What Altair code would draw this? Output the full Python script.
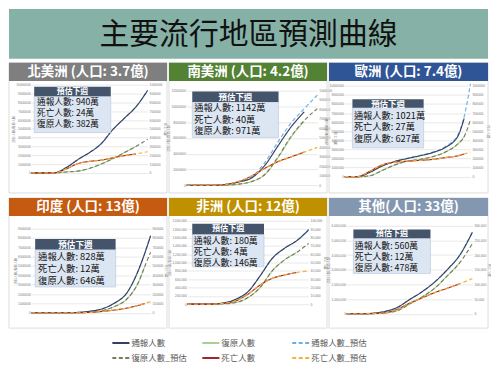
import json
import altair as alt
import pandas as pd

# ---------------- data ----------------
TITLE = "主要流行地區預測曲線"

SERIES = ["通報人數", "復原人數", "通報人數_預估", "復原人數_預估", "死亡人數", "死亡人數_預估"]
SERIES_COLORS = ["#34405E", "#A9D18E", "#6FAFE0", "#787C5C", "#A3262A", "#F2B338"]
SERIES_DASH = [[1, 0], [1, 0], [4, 2.5], [4, 2.5], [1, 0], [4, 2.5]]

REGIONS = ["北美洲 (人口: 3.7億)", "南美洲 (人口: 4.2億)", "歐洲 (人口: 7.4億)",
           "印度 (人口: 13億)", "非洲 (人口: 12億)", "其他(人口: 33億)"]
HEADER_COLORS = ["#7F7F7F", "#548235", "#2F5597", "#C55A11", "#BF9000", "#8497B0"]

FORECAST_TITLE = "預估下週"
FORECAST_LABELS = ["通報人數", "死亡人數", "復原人數"]
FORECAST = [[940, 24, 382], [1142, 40, 971], [1021, 27, 627],
            [828, 12, 646], [180, 4, 146], [560, 12, 478]]   # 萬

LEFT_AXIS_TITLE = "通報人數/復原人數"
RIGHT_AXIS_TITLE = "死亡人數"

# axis ranges (persons)
LEFT_MAX = [10000000, 12000000, 10000000, 9000000, 2000000, 6000000]
LEFT_STEP = [1000000, 2000000, 1000000, 1000000, 200000, 1000000]
RIGHT_MAX = [1000000, 1000000, 1000000, 900000, 100000, 300000]
RIGHT_STEP = [100000, 100000, 100000, 100000, 10000, 50000]
NUM_FORMAT = ["d", "d", "d", "d", ",d", ",d"]

# x tick labels
NA_TICKS = ["2020/1/22", "2020/2/22", "2020/3/22", "2020/4/22", "2020/5/22",
            "2020/6/22", "2020/7/22", "2020/8/22", "2020/9/22", "2020/10/22"]
SA_TICKS = ["2/26", "3/11", "3/25", "4/8", "4/22", "5/6", "5/20", "6/3", "6/17",
            "7/1", "7/15", "7/29", "8/12", "8/26", "9/9", "9/23", "10/7", "10/21"]
EU_TICKS = ["1/24", "2/23", "3/24", "4/23", "5/23", "6/22", "7/22", "8/21", "9/20", "10/20"]
IN_TICKS = ["2020/1/30", "2020/2/29", "2020/3/30", "2020/4/29", "2020/5/29",
            "2020/6/28", "2020/7/28", "2020/8/27", "2020/9/26", "2020/10/26"]
AF_TICKS = ["2/14", "2/21", "2/28", "3/6", "3/13", "3/20", "3/27", "4/3", "4/10", "4/17",
            "4/24", "5/1", "5/8", "5/15", "5/22", "5/29", "6/5", "6/12", "6/19", "6/26",
            "7/3", "7/10", "7/17", "7/24", "7/31", "8/7", "8/14", "8/21", "8/28", "9/4",
            "9/11", "9/18", "9/25", "10/2"]
OT_TICKS = ["1/22", "1/29", "2/5", "2/12", "2/19", "2/26", "3/4", "3/11", "3/18", "3/25",
            "4/1", "4/8", "4/15", "4/22", "4/29", "5/6", "5/13", "5/20", "5/27", "6/3",
            "6/10", "6/17", "6/24", "7/1", "7/8", "7/15", "7/22", "7/29", "8/5", "8/12",
            "8/19", "8/26", "9/2", "9/9", "9/16", "9/23", "9/30", "10/7", "10/14", "10/21"]

# sample positions along the x axis (fraction of axis) and series values (萬人)
X11 = [0, 0.1, 0.2, 0.3, 0.4, 0.5, 0.6, 0.7, 0.8, 0.9, 1.0]
X12 = [0, 0.1, 0.2, 0.3, 0.4, 0.5, 0.6, 0.7, 0.8, 0.9, 0.95, 1.0]

NA_CASES = [0, 0, 2, 60, 150, 230, 330, 490, 620, 750, 935]
NA_CASES_PRED = [0, 0, 2, 60, 150, 230, 330, 490, 620, 750, 940]
NA_REC = [0, 0, 0, 10, 20, 50, 100, 160, 230, 300]
NA_REC_PRED = [0, 0, 0, 10, 20, 50, 100, 160, 230, 300, 382]
NA_DEATHS = [0, 0, 0, 4.5, 10.5, 13, 14.5, 17, 19.5, 21.5]
NA_DEATHS_PRED = [0, 0, 0, 4.5, 10.5, 13, 14.5, 17, 19.5, 21.5, 24]

SA_CASES = [0, 0, 0, 10, 42, 95, 255, 500, 740, 930]
SA_CASES_PRED = [0, 0, 0, 12, 50, 110, 290, 550, 790, 970, 1142]
SA_REC = [0, 0, 0, 2, 14, 48, 135, 350, 610, 810]
SA_REC_PRED = [0, 0, 0, 2, 15, 50, 140, 360, 620, 820, 971]
SA_DEATHS = [0, 0, 0, 1, 4, 10, 18, 25, 30, 35]
SA_DEATHS_PRED = [0, 0, 0, 1, 4, 10, 18, 25, 30, 35, 40]

EU_CASES = [0, 0, 48, 118, 167, 200, 230, 265, 322, 445, 640]
EU_CASES_PRED = [0, 0, 50, 120, 170, 205, 235, 270, 330, 460, 660, 1021]
EU_REC = [0, 0, 10, 70, 130, 170, 190, 220, 270, 360, 440]
EU_REC_PRED = [0, 0, 10, 70, 130, 170, 190, 220, 270, 360, 440, 627]
EU_DEATHS = [0, 0, 6, 13, 16, 17, 18, 19, 21, 23, 25]
EU_DEATHS_PRED = [0, 0, 6, 13, 16, 17, 18, 19, 21, 23, 25, 27]

IN_CASES = [0, 0, 0, 0, 5, 18, 45, 105, 210, 460, 630, 820]
IN_CASES_PRED = [0, 0, 0, 0, 5, 18, 45, 105, 210, 460, 630, 828]
IN_REC = [0, 0, 0, 0, 1, 8, 25, 68, 145, 330, 490]
IN_REC_PRED = [0, 0, 0, 0, 1, 8, 25, 68, 145, 330, 490, 646]
IN_DEATHS = [0, 0, 0, 0, 0.1, 0.5, 1.5, 3, 5, 8, 9.8]
IN_DEATHS_PRED = [0, 0, 0, 0, 0.1, 0.5, 1.5, 3, 5, 8, 9.8, 12]

AF_CASES = [0, 0, 0.5, 3, 12, 30, 68, 110, 134, 152, 178]
AF_CASES_PRED = [0, 0, 0.5, 3, 12, 30, 68, 110, 134, 152, 180]
AF_REC = [0, 0, 0, 1, 4, 16, 40, 80, 106, 124]
AF_REC_PRED = [0, 0, 0, 1, 4, 16, 40, 80, 106, 124, 146]
AF_DEATHS = [0, 0, 0.01, 0.1, 0.4, 1.2, 2.3, 3.1, 3.5, 3.8]
AF_DEATHS_PRED = [0, 0, 0.01, 0.1, 0.4, 1.2, 2.3, 3.1, 3.5, 3.8, 4.0]

OT_CASES = [0, 0, 3, 15, 42, 96, 150, 216, 300, 400, 555]
OT_CASES_PRED = [0, 0, 3, 15, 42, 96, 150, 216, 300, 400, 560]
OT_REC = [0, 0, 1, 6, 20, 66, 114, 174, 258, 348]
OT_REC_PRED = [0, 0, 1, 6, 20, 66, 114, 174, 258, 348, 478]
OT_DEATHS = [0, 0, 0.05, 0.3, 1.5, 3.6, 5.4, 7.2, 8.7, 10.2]
OT_DEATHS_PRED = [0, 0, 0.05, 0.3, 1.5, 3.6, 5.4, 7.2, 8.7, 10.2, 12]

PANEL_DATA = [
    dict(x=X11, ticks=NA_TICKS, k=10, angle=-45, cases=NA_CASES, cases_p=NA_CASES_PRED,
         rec=NA_REC, rec_p=NA_REC_PRED, deaths=NA_DEATHS, deaths_p=NA_DEATHS_PRED),
    dict(x=X11, ticks=SA_TICKS, k=17, angle=0, cases=SA_CASES, cases_p=SA_CASES_PRED,
         rec=SA_REC, rec_p=SA_REC_PRED, deaths=SA_DEATHS, deaths_p=SA_DEATHS_PRED),
    dict(x=X12, ticks=EU_TICKS, k=9, angle=0, cases=EU_CASES, cases_p=EU_CASES_PRED,
         rec=EU_REC, rec_p=EU_REC_PRED, deaths=EU_DEATHS, deaths_p=EU_DEATHS_PRED),
    dict(x=X12, ticks=IN_TICKS, k=10, angle=-45, cases=IN_CASES, cases_p=IN_CASES_PRED,
         rec=IN_REC, rec_p=IN_REC_PRED, deaths=IN_DEATHS, deaths_p=IN_DEATHS_PRED),
    dict(x=X11, ticks=AF_TICKS, k=33, angle=-90, cases=AF_CASES, cases_p=AF_CASES_PRED,
         rec=AF_REC, rec_p=AF_REC_PRED, deaths=AF_DEATHS, deaths_p=AF_DEATHS_PRED),
    dict(x=X11, ticks=OT_TICKS, k=39, angle=-90, cases=OT_CASES, cases_p=OT_CASES_PRED,
         rec=OT_REC, rec_p=OT_REC_PRED, deaths=OT_DEATHS, deaths_p=OT_DEATHS_PRED),
]

# ---------------- layout (reference px inside a 163x136 panel) ----------------
LAYOUT = [
    dict(px=(23, 143), py=(23, 115), box=(26, 105, 25, 35, 73), tx=29, rows=(41.5, 53, 64.5), fs=8.7),
    dict(px=(18, 153), py=(29, 128), box=(24, 113, 30, 41, 78), tx=26, rows=(47.5, 59.5, 71.5), fs=9.3),
    dict(px=(16, 145), py=(24, 119), box=(24, 97, 38, 47, 89), tx=25.5, rows=(55.5, 67.5, 79.5), fs=9.3),
    dict(px=(23, 146), py=(32, 120), box=(27, 110, 43, 54, 93), tx=30, rows=(62, 74.5, 87), fs=9.4),
    dict(px=(19, 144), py=(24, 111), box=(24, 98, 27, 38, 72), tx=25.5, rows=(44.5, 56, 67.5), fs=9.0),
    dict(px=(18, 147), py=(29, 121), box=(25, 104, 33, 42, 79), tx=26.5, rows=(50, 61.5, 73), fs=8.9),
]

CJK = "Noto Sans CJK TC"
LAT = "Liberation Sans"
ONE = pd.DataFrame({"k": [0]})
TOTAL_W = 482
PANEL_W = [159, 159, 160]
PANEL_H = 131
HEADER_H = 19
TICK_FS = 3.3
TICK_COLOR = "#7A7A7A"


def rect(x0, x1, y0, y1, fill, stroke=None, sw=0.0, opacity=1.0):
    kw = dict(fill=fill, fillOpacity=opacity)
    if stroke:
        kw.update(stroke=stroke, strokeWidth=sw)
    else:
        kw.update(strokeWidth=0)
    return alt.Chart(ONE).mark_rect(**kw).encode(
        x=alt.value(float(x0)), x2=alt.value(float(x1)),
        y=alt.value(float(y0)), y2=alt.value(float(y1)))


def text(x, y, s, size, color, align="left", weight="normal", font=CJK):
    return alt.Chart(ONE).mark_text(
        align=align, baseline="middle", fontSize=size, color=color,
        fontWeight=weight, font=font).encode(
        x=alt.value(float(x)), y=alt.value(float(y)), text=alt.value(s))


def panel(i, W, H):
    L, D = LAYOUT[i], PANEL_DATA[i]
    sx, sy = W / 163.0, H / 136.0
    x0, x1 = L["px"][0] * sx, L["px"][1] * sx
    yt, yb = L["py"][0] * sy, L["py"][1] * sy
    xscale = alt.Scale(domain=[0, 1], range=[x0, x1], nice=False, zero=False)
    ylscale = alt.Scale(domain=[0, LEFT_MAX[i]], range=[yb, yt], nice=False, zero=False)
    yrscale = alt.Scale(domain=[0, RIGHT_MAX[i]], range=[yb, yt], nice=False, zero=False)

    k = D["k"]
    tick_vals = [j / k for j in range(len(D["ticks"]))]
    x_axis = alt.Axis(
        orient="bottom", offset=-(H - yb), values=tick_vals,
        labelExpr=f"{json.dumps(D['ticks'])}[round(datum.value*{k})]",
        labelAngle=D["angle"], labelFontSize=TICK_FS, labelColor=TICK_COLOR, labelFont=LAT,
        labelPadding=1.5, labelOverlap=False, labelFlush=False, ticks=False,
        domain=True, domainColor="#D0D0D0", domainWidth=0.7, grid=False, title=None)
    left_axis = alt.Axis(
        orient="left", offset=-x0,
        values=list(range(0, LEFT_MAX[i] + 1, LEFT_STEP[i])), format=NUM_FORMAT[i],
        labelFontSize=TICK_FS, labelColor=TICK_COLOR, labelFont=LAT, labelPadding=1,
        labelOverlap=False, labelFlush=False, ticks=False, domain=False,
        grid=True, gridColor="#D9D9D9", gridWidth=0.6,
        title=LEFT_AXIS_TITLE, titleFontSize=3.2, titleColor=TICK_COLOR, titleFont=CJK,
        titleFontWeight="normal", titlePadding=0.5)
    right_axis = alt.Axis(
        orient="right", offset=-(W - x1),
        values=list(range(0, RIGHT_MAX[i] + 1, RIGHT_STEP[i])), format=NUM_FORMAT[i],
        labelFontSize=TICK_FS, labelColor=TICK_COLOR, labelFont=LAT, labelPadding=1.5,
        labelOverlap=False, labelFlush=False, ticks=False, domain=False, grid=False,
        title=RIGHT_AXIS_TITLE, titleFontSize=3.2, titleColor=TICK_COLOR, titleFont=CJK,
        titleFontWeight="normal", titlePadding=0.5)

    def line(vals, key, yscale, xa=None, ya=None):
        n = len(vals)
        df = pd.DataFrame({"x": D["x"][:n], "v": [v * 10000 for v in vals]})
        j = SERIES.index(key)
        return alt.Chart(df).mark_line(
            interpolate="monotone", strokeWidth=1.15, color=SERIES_COLORS[j],
            strokeDash=SERIES_DASH[j]).encode(
            x=alt.X("x:Q", scale=xscale, axis=xa),
            y=alt.Y("v:Q", scale=yscale, axis=ya))

    hh = HEADER_H * sy
    bx0, bx1, hy0, hy1, by1 = L["box"]
    bx0, bx1 = bx0 * sx, bx1 * sx
    hy0, hy1, by1 = hy0 * sy, hy1 * sy, by1 * sy
    fc = FORECAST[i]

    layers = [
        rect(0, W, 0, H, "#FFFFFF", "#D4D4D4", 0.8, opacity=0.0),
        rect(0, W, 0, hh, HEADER_COLORS[i]),
        text(W / 2, hh / 2 + 0.5, REGIONS[i], 13.5, "#FFFFFF", align="center", weight="bold"),
        line(D["rec"], "復原人數", ylscale, x_axis, left_axis),
        line(D["rec_p"], "復原人數_預估", ylscale),
        line(D["cases_p"], "通報人數_預估", ylscale),
        line(D["cases"], "通報人數", ylscale),
        line(D["deaths"], "死亡人數", yrscale, None, right_axis),
        line(D["deaths_p"], "死亡人數_預估", yrscale),
        rect(bx0, bx1, hy1, by1, "#DCE5F2", "#B4C4DE", 0.6),
        rect(bx0, bx1, hy0, hy1, "#44546A"),
        text((bx0 + bx1) / 2, (hy0 + hy1) / 2 + 0.2, FORECAST_TITLE, L["fs"] - 0.8,
             "#FFFFFF", align="center", weight="bold"),
    ]
    for r, (lab, val) in enumerate(zip(FORECAST_LABELS, fc)):
        layers.append(text(L["tx"] * sx, L["rows"][r] * sy, f"{lab}: {val}萬",
                           L["fs"], "#111111"))
    return alt.layer(*layers).resolve_scale(y="independent").properties(width=W, height=H)


# title band
title = alt.layer(
    rect(0, TOTAL_W, 0, 50, "#86B1A7"),
    text(TOTAL_W / 2, 26, TITLE, 30, "#111111", align="center"),
).properties(width=TOTAL_W, height=50)

row1 = alt.hconcat(*[panel(i, PANEL_W[i], PANEL_H) for i in range(3)], spacing=2, bounds="flush")
row2 = alt.hconcat(*[panel(i + 3, PANEL_W[i], PANEL_H) for i in range(3)], spacing=2, bounds="flush")

# legend
leg = pd.DataFrame({"s": SERIES, "col": [j % 3 for j in range(6)], "row": [j // 3 for j in range(6)]})
leg["xe"] = leg["col"] + 0.19
lx = alt.Scale(domain=[0, 2], range=[104, 285], nice=False, zero=False)
ly = alt.Scale(domain=[0, 1], range=[11, 26], nice=False, zero=False)
lcolor = alt.Color("s:N", scale=alt.Scale(domain=SERIES, range=SERIES_COLORS), legend=None)
ldash = alt.StrokeDash("s:N", scale=alt.Scale(domain=SERIES, range=SERIES_DASH), legend=None)
leg_rules = alt.Chart(leg).mark_rule(strokeWidth=2).encode(
    x=alt.X("col:Q", scale=lx, axis=None), x2=alt.X2("xe"),
    y=alt.Y("row:Q", scale=ly, axis=None), color=lcolor, strokeDash=ldash)
leg_text = alt.Chart(leg).mark_text(
    align="left", baseline="middle", dx=2, fontSize=8.5, color="#595959", font=CJK).encode(
    x=alt.X("xe:Q", scale=lx, axis=None), y=alt.Y("row:Q", scale=ly, axis=None), text="s:N")
legend = alt.layer(leg_rules, leg_text).properties(width=TOTAL_W, height=31)

chart = alt.vconcat(title, row1, row2, legend, spacing=3).properties(
    padding=0).configure_view(stroke=None)

chart.save("out.html", embed_options={"renderer": "svg", "actions": False})
